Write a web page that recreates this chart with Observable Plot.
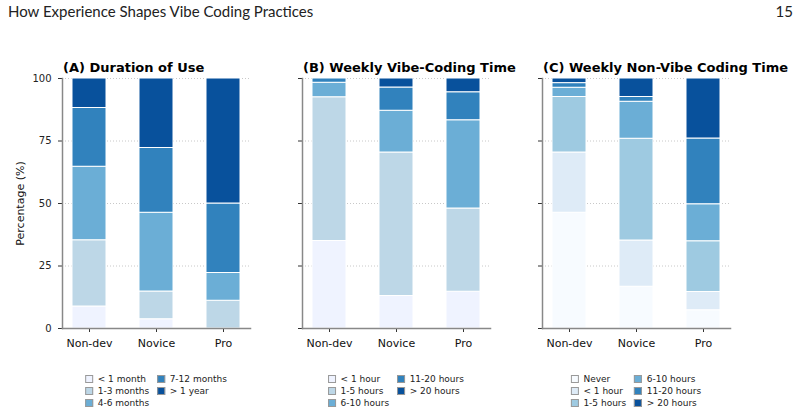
<!DOCTYPE html>
<html>
<head>
<meta charset="utf-8">
<script src="https://cdn.jsdelivr.net/npm/d3@7"></script>
<script src="https://cdn.jsdelivr.net/npm/@observablehq/plot@0.6"></script>
<style>
  html, body { margin: 0; padding: 0; background: #fff; }
  #page { position: relative; width: 800px; height: 413px; overflow: hidden; font-family: "DejaVu Sans", sans-serif; color: #111; }
  .runhead { position: absolute; top: 4px; font-family: Lato, "Open Sans", sans-serif; font-size: 15px; line-height: 15px; color: #222; white-space: nowrap; }
  .ptitle { position: absolute; top: 60.5px; font-family: "DejaVu Sans", sans-serif; font-weight: bold; font-size: 13px; line-height: 13px; white-space: nowrap; color: #000; }
  .panel { position: absolute; top: 50px; }
  .legend { position: absolute; top: 373px; transform: translateX(-50%); display: grid; grid-template-rows: repeat(3, 12px); grid-auto-flow: column; column-gap: 8px; font-size: 9px; color: #222; }
  .legend .item { display: flex; align-items: center; white-space: nowrap; }
  .legend .sw { width: 8px; height: 8px; box-sizing: border-box; border: 1px solid #999; margin-right: 4.5px; }
</style>
</head>
<body>
<div id="page">
  <div class="runhead" style="left:8px">How Experience Shapes Vibe Coding Practices</div>
  <div class="runhead" style="right:7px">15</div>
</div>
<script>
// Respondent groups along the x axis
const groups = ["Non-dev", "Novice", "Pro"];

// (A) How long people have been vibe coding — share of each group (%)
const durationLevels = ["< 1 month", "1-3 months", "4-6 months", "7-12 months", "> 1 year"];
const durationNonDev = [8.8, 26.5, 29.4, 23.5, 11.8];
const durationNovice = [3.7, 11.1, 31.5, 25.9, 27.8];
const durationPro = [0, 11.1, 11.1, 27.8, 50.0];

// (B) Hours per week spent vibe coding (%)
const vibeLevels = ["< 1 hour", "1-5 hours", "6-10 hours", "11-20 hours", "> 20 hours"];
const vibeNonDev = [35.0, 57.5, 5.8, 1.7, 0];
const vibeNovice = [13.0, 57.4, 16.7, 9.3, 3.6];
const vibePro = [14.7, 33.3, 35.3, 11.2, 5.5];

// (C) Hours per week spent coding without AI assistance (%)
const nonVibeLevels = ["Never", "< 1 hour", "1-5 hours", "6-10 hours", "11-20 hours", "> 20 hours"];
const nonVibeNonDev = [46.3, 24.1, 22.2, 3.7, 1.85, 1.85];
const nonVibeNovice = [16.7, 18.5, 40.7, 14.8, 1.9, 7.4];
const nonVibePro = [7.3, 7.3, 20.3, 14.8, 26.3, 24.0];

// Sequential blue palettes
const blues5 = ["#eff3ff", "#bdd7e7", "#6baed6", "#3182bd", "#08519c"];
const blues6 = ["#f7fbff", "#deebf7", "#9ecae1", "#6baed6", "#3182bd", "#08519c"];

const page = document.getElementById("page");

function toRows(levels, series) {
  const rows = [];
  groups.forEach((g, gi) => {
    series[gi].forEach((v, li) => rows.push({group: g, level: levels[li], value: v}));
  });
  return rows;
}

function panel({title, levels, colors, series, axisLeft, showYLabels}) {
  const marginLeft = 62;
  const rows = toRows(levels, series);
  const marks = [
    Plot.gridY([25, 50, 75, 100], {stroke: "#c8c8c8", strokeOpacity: 1, strokeDasharray: "1,2"}),
    Plot.barY(rows, {
      x: "group", y: "value", fill: "level",
      stroke: "white", strokeWidth: 1,
      filter: d => d.value > 0
    }),
    Plot.axisY([0, 25, 50, 75, 100], {
      tickSize: 4, tickPadding: 7, stroke: "#333", fill: "#222", fontSize: 10,
      tickFormat: showYLabels ? d => d : () => "", label: null
    }),
    Plot.axisX({tickSize: 4, tickPadding: 7, stroke: "#333", fill: "#111", fontSize: 11, label: null}),
    Plot.frame({anchor: "left", stroke: "#888", strokeWidth: 1.5}),
    Plot.frame({anchor: "bottom", stroke: "#888", strokeWidth: 1.5})
  ];
  if (showYLabels) {
    marks.push(Plot.text(["Percentage (%)"], {
      frameAnchor: "left", textAnchor: "middle", dx: -42, rotate: -90,
      fontSize: 11, fill: "#111", text: d => d
    }));
  }
  const svg = Plot.plot({
    width: marginLeft + 188 + 10,
    height: 28 + 250 + 35,
    marginLeft, marginRight: 10, marginTop: 28, marginBottom: 35,
    style: {fontFamily: "DejaVu Sans", fontSize: "10px", background: "transparent", overflow: "visible"},
    x: {domain: groups, paddingInner: 0.5, paddingOuter: 0.15, label: null},
    y: {domain: [0, 100], label: null},
    color: {domain: levels, range: colors},
    marks
  });
  svg.classList.add("panel");
  svg.style.left = (axisLeft - marginLeft) + "px";
  page.appendChild(svg);

  const t = document.createElement("div");
  t.className = "ptitle";
  t.style.left = (axisLeft + 1) + "px";
  t.textContent = title;
  page.appendChild(t);

  const lg = document.createElement("div");
  lg.className = "legend";
  lg.style.left = (axisLeft + 94) + "px";
  levels.forEach((lv, i) => {
    const item = document.createElement("div");
    item.className = "item";
    const sw = document.createElement("span");
    sw.className = "sw";
    sw.style.background = colors[i];
    const tx = document.createElement("span");
    tx.textContent = lv;
    item.appendChild(sw);
    item.appendChild(tx);
    lg.appendChild(item);
  });
  page.appendChild(lg);
}

panel({
  title: "(A) Duration of Use", levels: durationLevels, colors: blues5,
  series: [durationNonDev, durationNovice, durationPro], axisLeft: 62, showYLabels: true
});
panel({
  title: "(B) Weekly Vibe-Coding Time", levels: vibeLevels, colors: blues5,
  series: [vibeNonDev, vibeNovice, vibePro], axisLeft: 302, showYLabels: false
});
panel({
  title: "(C) Weekly Non-Vibe Coding Time", levels: nonVibeLevels, colors: blues6,
  series: [nonVibeNonDev, nonVibeNovice, nonVibePro], axisLeft: 542, showYLabels: false
});
</script>
</body>
</html>
